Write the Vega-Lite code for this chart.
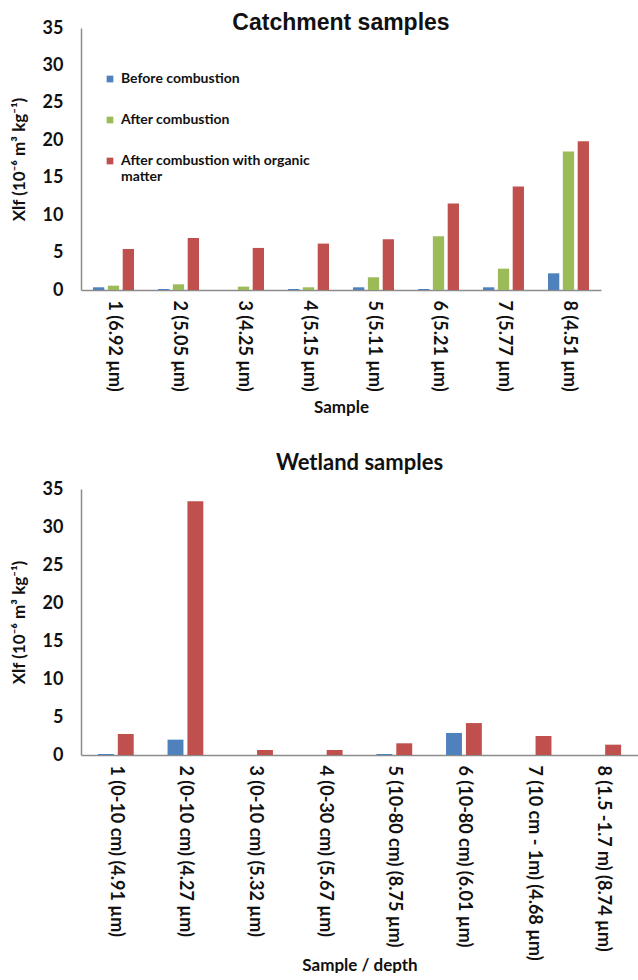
{
  "$schema": "https://vega.github.io/schema/vega-lite/v6.json",
  "padding": {"top": 12, "left": 10, "right": 0, "bottom": 0},
  "background": "white",
  "config": {
    "view": {"stroke": null},
    "font": "Lato",
    "axis": {
      "grid": false,
      "ticks": false,
      "domainColor": "#8c8c8c",
      "domainWidth": 1.5,
      "labelFont": "Lato",
      "labelFontWeight": "bold",
      "labelFontSize": 18,
      "labelColor": "#111111",
      "titleFont": "Lato",
      "titleFontSize": 17,
      "titleFontWeight": "bold",
      "titleColor": "#111111"
    }
  },
  "datasets": {
    "catchment": [
      {"sample": "1 (6.92  µm)", "series": "Before combustion", "value": 0.36},
      {"sample": "1 (6.92  µm)", "series": "After combustion", "value": 0.58},
      {"sample": "1 (6.92  µm)", "series": "After combustion with organic matter", "value": 5.48},
      {"sample": "2 (5.05 µm)", "series": "Before combustion", "value": 0.13},
      {"sample": "2 (5.05 µm)", "series": "After combustion", "value": 0.76},
      {"sample": "2 (5.05 µm)", "series": "After combustion with organic matter", "value": 6.95},
      {"sample": "3 (4.25 µm)", "series": "Before combustion", "value": 0.0},
      {"sample": "3 (4.25 µm)", "series": "After combustion", "value": 0.45},
      {"sample": "3 (4.25 µm)", "series": "After combustion with organic matter", "value": 5.62},
      {"sample": "4 (5.15 µm)", "series": "Before combustion", "value": 0.13},
      {"sample": "4 (5.15 µm)", "series": "After combustion", "value": 0.36},
      {"sample": "4 (5.15 µm)", "series": "After combustion with organic matter", "value": 6.2},
      {"sample": "5 (5.11 µm)", "series": "Before combustion", "value": 0.36},
      {"sample": "5 (5.11 µm)", "series": "After combustion", "value": 1.7},
      {"sample": "5 (5.11 µm)", "series": "After combustion with organic matter", "value": 6.78},
      {"sample": "6 (5.21 µm)", "series": "Before combustion", "value": 0.13},
      {"sample": "6 (5.21 µm)", "series": "After combustion", "value": 7.18},
      {"sample": "6 (5.21 µm)", "series": "After combustion with organic matter", "value": 11.55},
      {"sample": "7 (5.77 µm)", "series": "Before combustion", "value": 0.36},
      {"sample": "7 (5.77 µm)", "series": "After combustion", "value": 2.85},
      {"sample": "7 (5.77 µm)", "series": "After combustion with organic matter", "value": 13.82},
      {"sample": "8 (4.51 µm)", "series": "Before combustion", "value": 2.23},
      {"sample": "8 (4.51 µm)", "series": "After combustion", "value": 18.5},
      {"sample": "8 (4.51 µm)", "series": "After combustion with organic matter", "value": 19.88}
    ],
    "wetland": [
      {"sample": "1 (0-10 cm) (4.91 µm)", "series": "Before combustion", "value": 0.13},
      {"sample": "1 (0-10 cm) (4.91 µm)", "series": "After combustion with organic matter", "value": 2.76},
      {"sample": "2 (0-10 cm) (4.27 µm)", "series": "Before combustion", "value": 2.02},
      {"sample": "2 (0-10 cm) (4.27 µm)", "series": "After combustion with organic matter", "value": 33.4},
      {"sample": "3 (0-10 cm) (5.32 µm)", "series": "Before combustion", "value": 0.0},
      {"sample": "3 (0-10 cm) (5.32 µm)", "series": "After combustion with organic matter", "value": 0.66},
      {"sample": "4 (0-30 cm) (5.67 µm)", "series": "Before combustion", "value": 0.0},
      {"sample": "4 (0-30 cm) (5.67 µm)", "series": "After combustion with organic matter", "value": 0.66},
      {"sample": "5 (10-80 cm) (8.75 µm)", "series": "Before combustion", "value": 0.13},
      {"sample": "5 (10-80 cm) (8.75 µm)", "series": "After combustion with organic matter", "value": 1.54},
      {"sample": "6 (10-80 cm) (6.01 µm)", "series": "Before combustion", "value": 2.9},
      {"sample": "6 (10-80 cm) (6.01 µm)", "series": "After combustion with organic matter", "value": 4.2},
      {"sample": "7 (10 cm - 1m) (4.68 µm)", "series": "Before combustion", "value": 0.0},
      {"sample": "7 (10 cm - 1m) (4.68 µm)", "series": "After combustion with organic matter", "value": 2.5},
      {"sample": "8 (1.5 -1.7 m) (8.74 µm)", "series": "Before combustion", "value": 0.0},
      {"sample": "8 (1.5 -1.7 m) (8.74 µm)", "series": "After combustion with organic matter", "value": 1.36}
    ]
  },
  "spacing": 36,
  "resolve": {
    "scale": {"color": "independent", "x": "independent", "xOffset": "independent", "y": "independent"},
    "legend": {"color": "independent"}
  },
  "vconcat": [
    {
      "width": 520,
      "height": 262,
      "title": {"text": "Catchment samples", "font": "Liberation Sans", "fontSize": 23, "fontWeight": "bold", "color": "#111111", "anchor": "middle", "offset": -16},
      "data": {"name": "catchment"},
      "mark": {"type": "bar"},
      "encoding": {
        "x": {
          "field": "sample", "type": "nominal", "sort": null,
          "scale": {"paddingInner": 0.37, "paddingOuter": 0.185},
          "axis": {"title": "Sample", "labelAngle": 90, "labelLimit": 300, "labelPadding": 10, "titlePadding": 4}
        },
        "xOffset": {
          "field": "series", "type": "nominal",
          "scale": {"domain": ["Before combustion", "After combustion", "After combustion with organic matter"], "paddingInner": 0.24}
        },
        "y": {
          "field": "value", "type": "quantitative",
          "scale": {"domain": [0, 35], "nice": false},
          "axis": {"title": "Xlf (10⁻⁶ m³ kg⁻¹)", "values": [0, 5, 10, 15, 20, 25, 30, 35], "labelPadding": 18, "titlePadding": 14}
        },
        "color": {
          "field": "series", "type": "nominal",
          "scale": {"domain": ["Before combustion", "After combustion", "After combustion with organic matter"], "range": ["#4F81BD", "#9BBB59", "#C0504D"]},
          "legend": {
            "orient": "none", "legendX": 22, "legendY": 44, "title": null,
            "symbolType": "square", "symbolSize": 45, "symbolStrokeWidth": 0,
            "labelFont": "Lato", "labelFontSize": 14, "labelFontWeight": "bold", "labelColor": "#111111",
            "labelLimit": 400, "rowPadding": 27,
            "labelExpr": "datum.label == 'After combustion with organic matter' ? ['After combustion with organic', 'matter'] : datum.label"
          }
        }
      }
    },
    {
      "width": 557,
      "height": 266,
      "title": {"text": "Wetland samples", "font": "Lato", "fontSize": 22, "fontWeight": "bold", "color": "#111111", "anchor": "middle", "offset": 5},
      "data": {"name": "wetland"},
      "mark": {"type": "bar"},
      "encoding": {
        "x": {
          "field": "sample", "type": "nominal", "sort": null,
          "scale": {"paddingInner": 0.486, "paddingOuter": 0.243},
          "axis": {"title": "Sample / depth", "labelAngle": 90, "labelLimit": 300, "labelPadding": 10, "titlePadding": 2}
        },
        "xOffset": {
          "field": "series", "type": "nominal",
          "scale": {"domain": ["Before combustion", "After combustion with organic matter"], "paddingInner": 0.2}
        },
        "y": {
          "field": "value", "type": "quantitative",
          "scale": {"domain": [0, 35], "nice": false},
          "axis": {"title": "Xlf (10⁻⁶ m³ kg⁻¹)", "values": [0, 5, 10, 15, 20, 25, 30, 35], "labelPadding": 18, "titlePadding": 14}
        },
        "color": {
          "field": "series", "type": "nominal",
          "scale": {"domain": ["Before combustion", "After combustion", "After combustion with organic matter"], "range": ["#4F81BD", "#9BBB59", "#C0504D"]},
          "legend": null
        }
      }
    }
  ]
}
